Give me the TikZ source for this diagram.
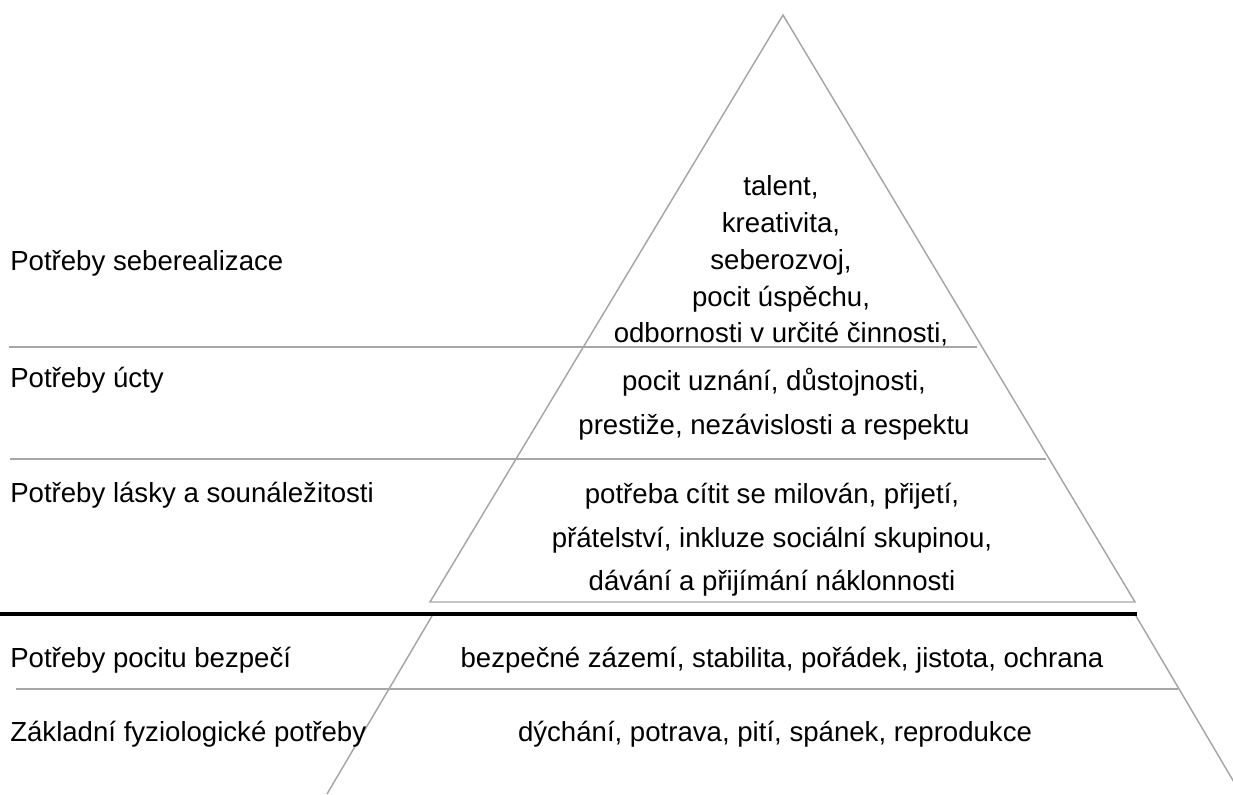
\documentclass[tikz,border=0pt]{standalone}
\usepackage{fontspec}
\setmainfont{Liberation Sans}
\definecolor{edgegray}{RGB}{166,166,166}

\tikzset{
  levelline/.style={draw=edgegray, line width=1.1pt},
  levelname/.style={anchor=west, inner sep=0pt},
  levelitems/.style={align=center, inner sep=0pt},
  widelines/.style={font=\fontsize{20.7}{32.6}\selectfont}
}

\begin{document}
\begin{tikzpicture}[x=0.75pt, y=-0.75pt, font=\fontsize{20.7}{27.6}\selectfont]

\useasboundingbox (0,0) rectangle (1233,794);

%%%%%%%%%%%%%%%%%%%%%%%%%%%%%%%%%%%%%%%%%%%%%%%%%%%%%%
% UPPER TRIANGLE
%%%%%%%%%%%%%%%%%%%%%%%%%%%%%%%%%%%%%%%%%%%%%%%%%%%%%%

\coordinate (apex) at (783,15);
\coordinate (topleft) at (430,602);
\coordinate (topright) at (1135,602);

\draw[levelline, line join=miter]
(topleft) -- (apex) -- (topright) -- cycle;

%%%%%%%%%%%%%%%%%%%%%%%%%%%%%%%%%%%%%%%%%%%%%%%%%%%%%%
% LOWER TRAPEZOID
%%%%%%%%%%%%%%%%%%%%%%%%%%%%%%%%%%%%%%%%%%%%%%%%%%%%%%

\coordinate (baseleft) at (432,616);
\coordinate (baseright) at (1136,616);
\coordinate (footleft) at (327,794);
\coordinate (footright) at (1241,794);

\begin{scope}
\clip (0,0) rectangle (1233,794);
\draw[levelline] (baseleft) -- (footleft);
\draw[levelline] (baseright) -- (footright);
\end{scope}

%%%%%%%%%%%%%%%%%%%%%%%%%%%%%%%%%%%%%%%%%%%%%%%%%%%%%%
% LEVEL LINES
%%%%%%%%%%%%%%%%%%%%%%%%%%%%%%%%%%%%%%%%%%%%%%%%%%%%%%

\coordinate (line1a) at (9,347);
\coordinate (line1b) at (977,347);
\coordinate (line2a) at (10,459);
\coordinate (line2b) at (1046,459);
\coordinate (line3a) at (16,689);
\coordinate (line3b) at (1178,689);
\coordinate (splita) at (0,614);
\coordinate (splitb) at (1137,614);

\draw[levelline] (line1a) -- (line1b);
\draw[levelline] (line2a) -- (line2b);
\draw[levelline] (line3a) -- (line3b);
\draw[line width=2.6pt] (splita) -- (splitb);

%%%%%%%%%%%%%%%%%%%%%%%%%%%%%%%%%%%%%%%%%%%%%%%%%%%%%%
% LEVEL NAMES
%%%%%%%%%%%%%%%%%%%%%%%%%%%%%%%%%%%%%%%%%%%%%%%%%%%%%%

\node[levelname] (selfname) at (10,263) {Potřeby seberealizace};
\node[levelname] (esteemname) at (10,380) {Potřeby úcty};
\node[levelname] (lovename) at (10,495) {Potřeby lásky a sounáležitosti};
\node[levelname] (safetyname) at (10,660) {Potřeby pocitu bezpečí};
\node[levelname] (bodyname) at (10,734) {Základní fyziologické potřeby};

%%%%%%%%%%%%%%%%%%%%%%%%%%%%%%%%%%%%%%%%%%%%%%%%%%%%%%
% LEVEL CONTENTS
%%%%%%%%%%%%%%%%%%%%%%%%%%%%%%%%%%%%%%%%%%%%%%%%%%%%%%

\node[levelitems] (selfitems) at (781,261)
{talent,\\kreativita,\\seberozvoj,\\pocit úspěchu,\\odbornosti v určité činnosti,};

\node[levelitems, widelines] (esteemitems) at (774,404)
{pocit uznání, důstojnosti,\\prestiže, nezávislosti a respektu};

\node[levelitems, widelines] (loveitems) at (772,540)
{potřeba cítit se milován, přijetí,\\přátelství, inkluze sociální skupinou,\\dávání a přijímání náklonnosti};

\node[levelitems] (safetyitems) at (782,660)
{bezpečné zázemí, stabilita, pořádek, jistota, ochrana};

\node[levelitems] (bodyitems) at (775,734)
{dýchání, potrava, pití, spánek, reprodukce};

\end{tikzpicture}
\end{document}
